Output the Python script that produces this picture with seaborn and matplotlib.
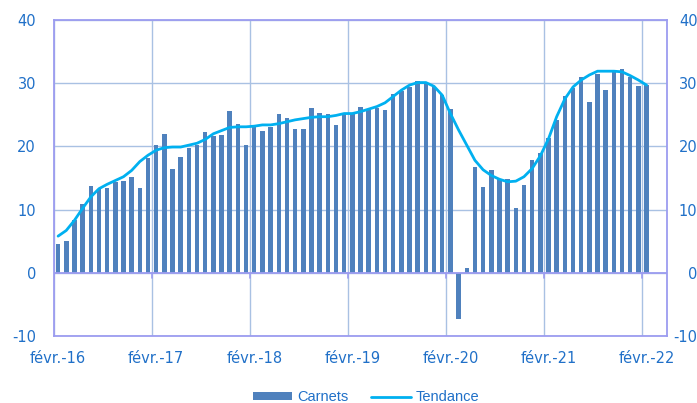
import numpy as np
import pandas as pd
import matplotlib
matplotlib.use("Agg")
import matplotlib.pyplot as plt
import seaborn as sns

# Monthly data Feb-2016 .. Feb-2022
mois = [d.strftime("%m-%y") for d in pd.date_range("2016-02-01", periods=73, freq="MS")]
carnets = [4.5, 5.1, 8.3, 10.9, 13.7, 13.3, 13.4, 14.3, 14.6, 15.2, 13.4, 18.2,
           20.3, 22.0, 16.5, 18.4, 19.7, 20.3, 22.3, 21.7, 21.8, 25.6, 23.6, 20.2,
           23.2, 22.4, 23.0, 25.1, 24.5, 22.8, 22.8, 26.0, 25.3, 25.1, 23.4, 25.2,
           25.1, 26.2, 25.7, 26.0, 25.8, 28.3, 28.8, 29.4, 30.4, 30.1, 29.4, 28.1,
           25.9, -7.3, 0.7, 16.8, 13.6, 16.3, 14.9, 14.8, 10.3, 13.9, 17.9, 19.0,
           21.3, 24.2, 27.9, 29.2, 31.0, 27.0, 31.4, 28.9, 31.8, 32.3, 31.0, 29.6,
           29.7]
tendance = [5.8, 6.7, 8.3, 10.2, 12.0, 13.3, 14.0, 14.6, 15.2, 16.2, 17.6, 18.6,
            19.4, 19.8, 19.9, 19.9, 20.2, 20.5, 21.1, 22.0, 22.5, 23.0, 23.1, 23.1,
            23.2, 23.4, 23.4, 23.6, 23.9, 24.2, 24.4, 24.6, 24.7, 24.7, 24.9, 25.2,
            25.2, 25.5, 25.9, 26.3, 26.9, 27.9, 28.9, 29.7, 30.1, 30.1, 29.5, 28.1,
            25.2, 22.6, 20.2, 17.8, 16.3, 15.4, 14.8, 14.4, 14.5, 15.2, 16.5, 18.5,
            21.2, 24.7, 27.5, 29.4, 30.5, 31.3, 31.9, 31.9, 31.9, 31.8, 31.2, 30.5,
            29.7]
x_labels = ["févr.-16", "févr.-17", "févr.-18", "févr.-19", "févr.-20", "févr.-21", "févr.-22"]
y_ticks = [-10, 0, 10, 20, 30, 40]

df = pd.DataFrame({"mois": mois, "pos": np.arange(len(mois)),
                   "Carnets": carnets, "Tendance": tendance})

sns.set_theme(style="white")
plt.rcParams["font.family"] = ["DejaVu Sans"]
plt.rcParams["axes.unicode_minus"] = False

BLUE_TXT = "#2070c8"
AXIS_C = "#9c9cf0"
GRID_C = "#a9c1e3"

fig = plt.figure(figsize=(6.97, 4.03), dpi=100)
ax = fig.add_axes([54/697, 1-336/403, (667-54)/697, (336-20)/403])

sns.barplot(data=df, x="pos", y="Carnets", native_scale=True, width=0.55,
            color="#4f81bd", saturation=1, label="Carnets", ax=ax, zorder=3,
            linewidth=0)
sns.lineplot(data=df, x="pos", y="Tendance", color="#00b0f0", lw=2.0,
             label="Tendance", ax=ax, zorder=4)

ax.set_xlim(-0.5, 74.5)
ax.set_ylim(-10, 40)

# gridlines
year_idx = [i for i, m in enumerate(mois) if m.startswith("02-")]
ax.set_xticks([i - 0.5 for i in year_idx], minor=True)
ax.set_xticks(year_idx)
ax.set_xticklabels(x_labels)
ax.set_yticks(y_ticks)
ax.grid(False)
ax.grid(True, which="minor", axis="x", color=GRID_C, lw=1, zorder=0)
ax.grid(True, which="major", axis="y", color=GRID_C, lw=1, zorder=0)
ax.axhline(0, color=AXIS_C, lw=1.3, zorder=5)
for i in year_idx:
    ax.plot([i - 0.5, i - 0.5], [0, -0.8], color=AXIS_C, lw=1.2, zorder=5)

for s in ax.spines.values():
    s.set_visible(True)
    s.set_color(AXIS_C)
    s.set_linewidth(1.3)

ax.tick_params(axis="x", which="both", length=0, pad=11, labelsize=10.5, labelcolor=BLUE_TXT)
ax.tick_params(axis="y", length=0, pad=13, labelsize=10.5, labelcolor=BLUE_TXT)
ax.set_xlabel("")
ax.set_ylabel("")

ax2 = ax.twinx()
ax2.set_ylim(-10, 40)
ax2.set_yticks(y_ticks)
ax2.tick_params(axis="y", length=0, pad=22, labelsize=10.5, labelcolor=BLUE_TXT)
for lab in ax2.get_yticklabels():
    lab.set_horizontalalignment("right")
for s in ax2.spines.values():
    s.set_visible(False)
ax2.grid(False)

handles, labels = ax.get_legend_handles_labels()
order = [labels.index("Carnets"), labels.index("Tendance")]
handles = [handles[k] for k in order]
labels = [labels[k] for k in order]
if ax.get_legend() is not None:
    ax.get_legend().remove()
fig.legend(handles, labels, loc="lower center", bbox_to_anchor=(0.525, -0.036),
           ncol=2, frameon=False, handlelength=2.7, handleheight=0.45,
           columnspacing=1.6, handletextpad=0.3,
           prop={"family": "Liberation Sans", "size": 10.5}, labelcolor=BLUE_TXT)

fig.savefig("out.png", dpi=100)
